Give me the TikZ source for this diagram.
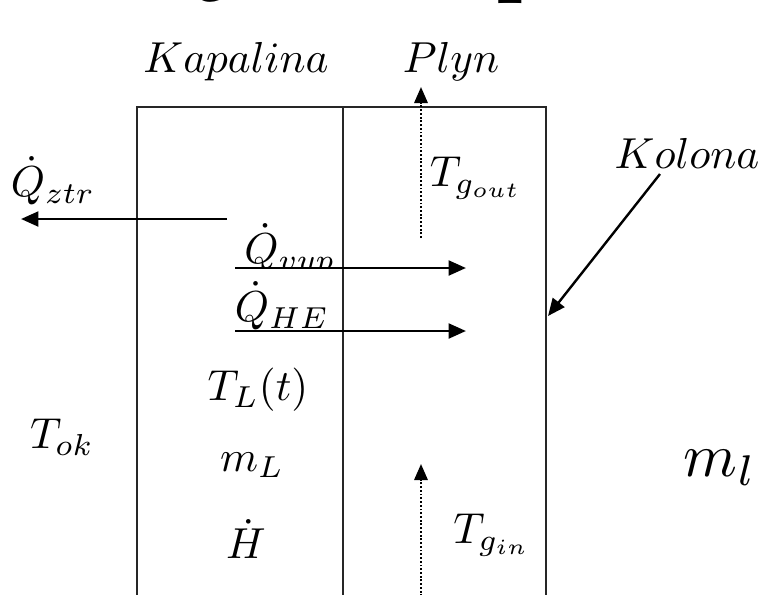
\documentclass[tikz,border=0pt]{standalone}
\usetikzlibrary{arrows.meta}
\begin{document}
\begin{tikzpicture}[x=0.75pt,y=-0.75pt,
  wall/.style={line width=1.3pt,draw=black!85},
  flow/.style={line width=2.2pt,-{Triangle[length=13pt,width=11pt]}},
  gasflow/.style={line width=1.6pt,dash pattern=on 1.4pt off 1.4pt,-{Triangle[length=12pt,width=10pt]}},
  lbl/.style={inner sep=0pt,scale=3.25},
  ttl/.style={inner sep=0pt,anchor=base,font=\fontsize{70}{70}\selectfont\bfseries}]
\useasboundingbox (0,0) rectangle (758,594);
\clip (0,0) rectangle (758,594);
% cut-off title fragments
\node[ttl] (t1) at (215,-17) {\itshape y};
\node[ttl] (t2) at (525,-15) {p};
% column walls
\coordinate (lt) at (137,107);
\coordinate (rt) at (546,107);
\coordinate (mt) at (343,107);
\coordinate (lb) at (137,600);
\coordinate (rb) at (546,600);
\coordinate (mb) at (343,600);
\draw[wall] (lb) -- (lt) -- (rt) -- (rb);
\draw[wall] (mt) -- (mb);
% labels
\node[lbl] (kap) at (236,62) {$Kapalina$};
\node[lbl] (ply) at (451,62) {$Plyn$};
\node[lbl] (tgo) at (476,178) {$T_{g_{out}}$};
\node[lbl] (kol) at (687,153) {$Kolona$};
\node[lbl] (qz) at (53,181) {$\dot{Q}_{ztr}$};
\begin{scope}
\clip (200,200) rectangle (400,267);
\node[lbl] (qv) at (290,250) {$\dot{Q}_{vyp}$};
\end{scope}
\node[lbl] (qh) at (282,306) {$\dot{Q}_{HE}$};
\node[lbl] (tl) at (258,390) {$T_L(t)$};
\node[lbl] (tok) at (62,437) {$T_{ok}$};
\node[lbl] (ml) at (252,465) {$m_L$};
\node[inner sep=0pt,scale=4.6] (mll) at (720,468) {$m_l$};
\node[lbl] (hd) at (246,539) {$\dot{H}$};
\node[lbl] (tgi) at (492,535) {$T_{g_{in}}$};
% heat flows
\coordinate (qzs) at (227,219);
\coordinate (qze) at (21,219);
\draw[flow] (qzs) -- (qze);
\coordinate (qvs) at (235,268);
\coordinate (qve) at (466,268);
\draw[flow] (qvs) -- (qve);
\coordinate (qhs) at (235,331);
\coordinate (qhe) at (466,331);
\draw[flow] (qhs) -- (qhe);
% gas flows
\coordinate (gos) at (421,238);
\coordinate (goe) at (421,87);
\draw[gasflow] (gos) -- (goe);
\coordinate (gis) at (421,600);
\coordinate (gie) at (421,464);
\draw[gasflow] (gis) -- (gie);
% Kolona pointer
\coordinate (ks) at (660,174);
\coordinate (kp) at (548,316);
\draw[flow,line width=1.8pt] (ks) -- (kp);
\end{tikzpicture}
\end{document}
